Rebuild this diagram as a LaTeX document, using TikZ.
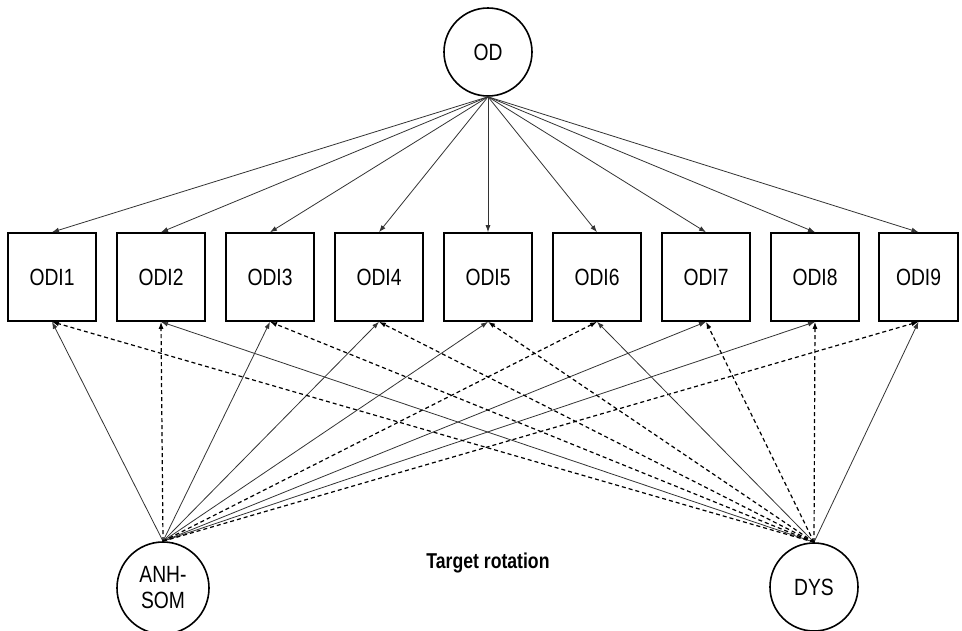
\documentclass[tikz,border=0pt]{standalone}
\usepackage{fontspec}
\setmainfont{Liberation Sans}[FakeStretch=0.82]
\usetikzlibrary{arrows.meta}
\begin{document}
\begin{tikzpicture}[x=1pt,y=-1pt,
 box/.style={draw,line width=1.6pt,minimum width=88pt,minimum height=88pt,inner sep=0pt,font=\fontsize{23.5}{25}\selectfont},
 lat/.style={draw,circle,line width=1.6pt,minimum size=88pt,inner sep=0pt,align=center,font=\fontsize{23.5}{26}\selectfont},
 pth/.style={line width=0.8pt,draw=black!80,-{Latex[length=7pt,width=5pt]}},
 dsh/.style={pth,draw=black,line width=1.2pt,dash pattern=on 4pt off 3pt}]
\useasboundingbox (0,0) rectangle (962,630);
\node[lat] (OD) at (488,52) {OD};
\node[lat,minimum size=92pt] (ANH) at (163,588) {ANH-\\SOM};
\node[lat] (DYS) at (814,587) {DYS};
\node[font=\bfseries\fontsize{21.5}{23}\selectfont] (TR) at (488,563) {Target rotation};
\foreach \i/\x in {1/52,2/161,3/270,4/379,5/488,6/597,7/706,8/815}
  \node[box] (b\i) at (\x,277) {ODI\i};
\node[box,minimum width=79pt] (b9) at (918.5,277) {ODI9};
\foreach \i in {1,...,9} \draw[pth] (OD.south) -- (b\i.north);
\foreach \i in {1,3,4,5,7,8} \draw[pth] (ANH.north) -- (b\i.south);
\foreach \i in {2,6,9} \draw[dsh] (ANH.north) -- (b\i.south);
\foreach \i in {2,6,9} \draw[pth] (DYS.north) -- (b\i.south);
\foreach \i in {1,3,4,5,7,8} \draw[dsh] (DYS.north) -- (b\i.south);
\end{tikzpicture}
\end{document}
